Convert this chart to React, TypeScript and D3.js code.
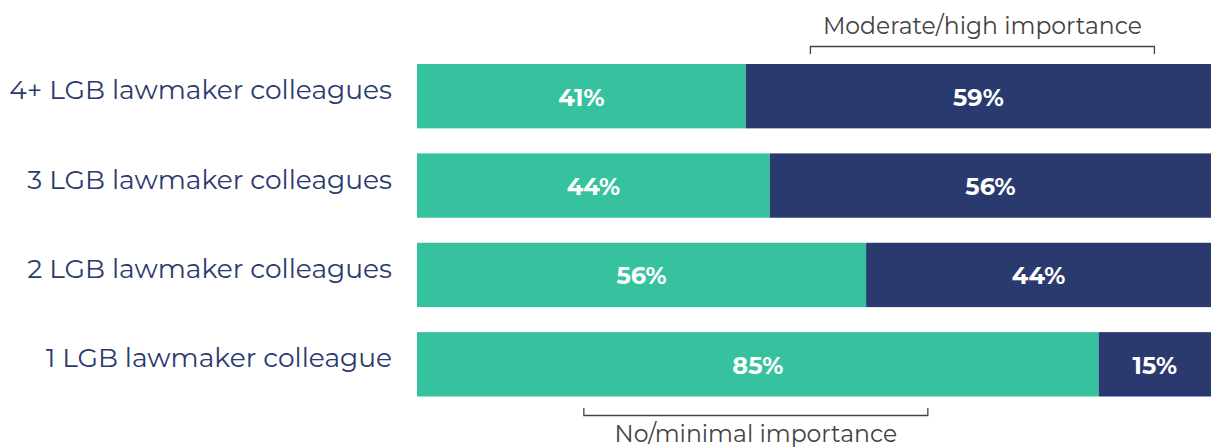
import React from "react";
import * as d3 from "d3";

const categories = ["4+ LGB lawmaker colleagues", "3 LGB lawmaker colleagues", "2 LGB lawmaker colleagues", "1 LGB lawmaker colleague"];
const noMinimal = [41, 44, 56, 85];
const moderateHigh = [59, 56, 44, 15];
const topNote = "Moderate/high importance";
const bottomNote = "No/minimal importance";

const W = 1211, H = 447;
const GREEN = "#37c29f", NAVY = "#2b3a6e";

export default function App() {
  const x = d3.scaleLinear().domain([0, 100]).range([417, 1219]);
  const y = d3.scaleBand().domain(categories).range([64, 396.5]).paddingInner(0.28).paddingOuter(0);
  const bw = y.bandwidth();
  const clip = (v: number) => Math.min(v, W);
  const topCx = (x(noMinimal[0]) + x(100)) / 2;
  const botCx = (x(0) + x(noMinimal[3])) / 2 - 2;
  const half = 172;
  return (
    <svg width={W} height={H} style={{ position: "absolute", left: 0, top: 0, fontFamily: "Montserrat, 'Noto Sans', sans-serif" }}>
      {categories.map((c, i) => {
        const yy = y(c)!;
        const x0 = x(0), x1 = x(noMinimal[i]), x2 = x(noMinimal[i] + moderateHigh[i]);
        return (
          <g key={c}>
            <text x={392} y={yy + bw / 2 + 3} textAnchor="end" fontSize={26.5} fill={NAVY}>{c}</text>
            <rect x={x0} y={yy} width={x1 - x0} height={bw} fill={GREEN} />
            <rect x={x1} y={yy} width={x2 - x1} height={bw} fill={NAVY} />
            <text x={(x0 + x1) / 2} y={yy + bw / 2 + 1} textAnchor="middle" dominantBaseline="central" fontSize={24} fontWeight={700} fill="#fff">{noMinimal[i]}%</text>
            <text x={(clip(x1) + clip(x2)) / 2} y={yy + bw / 2 + 1} textAnchor="middle" dominantBaseline="central" fontSize={24} fontWeight={700} fill="#fff">{moderateHigh[i]}%</text>
          </g>
        );
      })}
      <path d={`M${topCx - half},54V46.5H${topCx + half}V54`} fill="none" stroke="#444" strokeWidth={1.3} />
      <text x={topCx} y={34} textAnchor="middle" fontSize={23.5} fill="#444">{topNote}</text>
      <path d={`M${botCx - half},408V415.5H${botCx + half}V408`} fill="none" stroke="#444" strokeWidth={1.3} />
      <text x={botCx} y={442} textAnchor="middle" fontSize={23.5} fill="#444">{bottomNote}</text>
    </svg>
  );
}
